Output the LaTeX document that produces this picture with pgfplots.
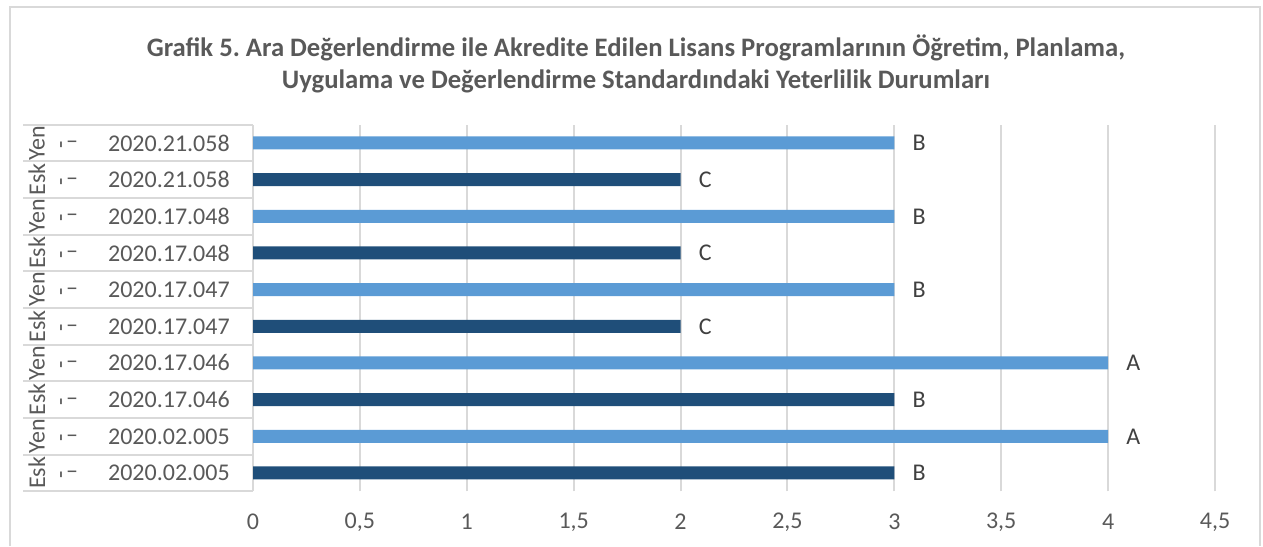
\documentclass[border=0pt]{standalone}
\usepackage{fontspec}
\setmainfont{Carlito}
\usepackage{pgfplots}
\pgfplotsset{compat=1.18}
\definecolor{esk}{HTML}{1F4E79}
\definecolor{yen}{HTML}{5B9BD5}
\definecolor{gridc}{HTML}{D9D9D9}
\definecolor{txt}{HTML}{595959}
\definecolor{lbl}{HTML}{404040}

\begin{document}
\begin{tikzpicture}[x=0.75pt,y=-0.75pt]
\path[use as bounding box] (0,0) rectangle (1263,546);
% chart frame
\draw[gridc, line width=1.5pt] (10,546) -- (10,7) -- (1260,7) -- (1260,546);
% title
\node[font=\fontsize{20}{24}\selectfont\bfseries, text=txt, align=center] at (636,64)
  {Grafik 5.\ Ara Değerlendirme ile Akredite Edilen Lisans Programlarının Öğretim, Planlama,\\
   Uygulama ve Değerlendirme Standardındaki Yeterlilik Durumları};

\begin{axis}[
  at={(189.75pt,-368.48pt)}, anchor=south west,
  width=721.5pt, height=275pt, scale only axis,
  xbar, bar width=9.75pt, bar shift=0pt,
  xmin=0, xmax=4.5, ymin=-0.5, ymax=9.5,
  xtick={0,0.5,1,1.5,2,2.5,3,3.5,4,4.5},
  ytick={0,...,9},
  yticklabels={2020.02.005,2020.02.005,2020.17.046,2020.17.046,2020.17.047,
               2020.17.047,2020.17.048,2020.17.048,2020.21.058,2020.21.058},
  xmajorgrids, grid style={gridc, line width=1.5pt},
  axis x line*=bottom, x axis line style={draw=none},
  axis y line*=left, y axis line style={gridc, line width=1.5pt},
  tick style={draw=none},
  /pgf/number format/use comma,
  /pgf/number format/assume math mode=true,
  xticklabel style={font=\fontsize{18}{22}\selectfont, text=txt, anchor=center, inner sep=0pt, yshift=-23pt},
  yticklabel style={font=\fontsize{18}{22}\selectfont, text=txt, anchor=east, inner sep=0pt, xshift=-13pt},
  nodes near coords, point meta=explicit symbolic,
  every node near coord/.append style={font=\fontsize{18}{22}\selectfont, text=lbl, anchor=west, inner sep=0pt, xshift=13.5pt},
]
\addplot[fill=esk, draw=none] coordinates {(3,0) [B] (3,2) [B] (2,4) [C] (2,6) [C] (2,8) [C]};
\addplot[fill=yen, draw=none] coordinates {(4,1) [A] (4,3) [A] (3,5) [B] (3,7) [B] (3,9) [B]};
\end{axis}

% multi-level category frame and outer labels
\foreach \k in {0,...,10}{
  \pgfmathsetmacro{\yy}{491.3-\k*36.67}
  \draw[gridc, line width=1.5pt] (23,\yy) -- (253,\yy);
}
\foreach \i in {0,...,9}{
  \pgfmathsetmacro{\yc}{491.3-(\i+0.5)*36.67}
  \pgfmathparse{int(mod(\i,2))}
  \ifnum\pgfmathresult=0
    \node[rotate=90, font=\fontsize{18}{22}\selectfont, text=txt, inner sep=0pt] at (37,\yc) {Esk};
  \else
    \node[rotate=90, font=\fontsize{18}{22}\selectfont, text=txt, inner sep=0pt] at (37,\yc) {Yen};
  \fi
  \node[rotate=90, font=\fontsize{18}{22}\selectfont, text=txt, inner sep=0pt] at (64,\yc+2) {-};
  \node[font=\fontsize{18}{22}\selectfont, text=txt, inner sep=0pt] at (72,\yc+2) {–};
}
\end{tikzpicture}
\end{document}
